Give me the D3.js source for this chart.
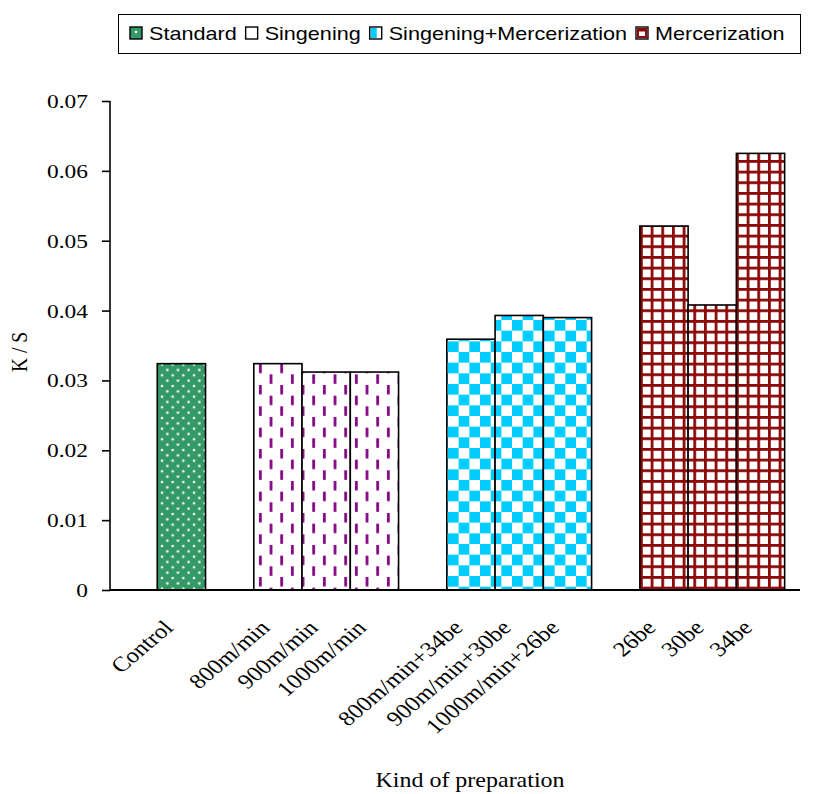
<!DOCTYPE html>
<html>
<head>
<meta charset="utf-8">
<script src="https://cdn.jsdelivr.net/npm/d3@7"></script>
<style>
  body { margin: 0; background: #fff; }
  svg { display: block; }
</style>
</head>
<body>
<svg id="chart" width="821" height="794"></svg>
<script>
// K/S by kind of preparation
const seriesNames = ["Standard", "Singening", "Singening+Mercerization", "Mercerization"];
const categories = ["Control", "800m/min", "900m/min", "1000m/min",
  "800m/min+34be", "900m/min+30be", "1000m/min+26be", "26be", "30be", "34be"];
const categorySeries = [0, 1, 1, 1, 2, 2, 2, 3, 3, 3];
const values = [0.0324, 0.0324, 0.0312, 0.0312, 0.0359, 0.0393, 0.0390, 0.0521, 0.0408, 0.0625];
const yTicks = [0, 0.01, 0.02, 0.03, 0.04, 0.05, 0.06, 0.07];
const yTickLabels = ["0", "0.01", "0.02", "0.03", "0.04", "0.05", "0.06", "0.07"];

const svg = d3.select("#chart");
const serif = "'Liberation Serif', 'Times New Roman', serif";
const sans = "'Liberation Sans', Arial, sans-serif";
const wide = 1.18; // horizontal stretch of the lettering

// one empty slot ahead of each series group
const slots = [];
categories.forEach((c, i) => {
  if (i === 0 || categorySeries[i] !== categorySeries[i - 1]) slots.push("gap" + categorySeries[i]);
  slots.push(c);
});

const plot = { left: 110, right: 800, top: 101, bottom: 590 };
const x = d3.scaleBand().domain(slots).range([109, 109 + slots.length * 48.26]).padding(0);
const y = d3.scaleLinear().domain([0, 0.07]).range([plot.bottom, plot.top]);

// fill patterns, one per series
const defs = svg.append("defs");
const cell = 32 / 3;

const p0 = defs.append("pattern").attr("id", "pat0").attr("patternUnits", "userSpaceOnUse")
  .attr("width", cell).attr("height", cell);
p0.append("rect").attr("width", cell).attr("height", cell).attr("fill", "#339966");
[[2, 2], [2 + cell / 2, 2 + cell / 2]].forEach(([cx, cy]) =>
  p0.append("circle").attr("cx", cx).attr("cy", cy).attr("r", 1.35).attr("fill", "#fff").attr("opacity", 0.95));

const p1 = defs.append("pattern").attr("id", "pat1").attr("patternUnits", "userSpaceOnUse")
  .attr("width", 2 * cell).attr("height", 2 * cell);
p1.append("rect").attr("width", 2 * cell).attr("height", 2 * cell).attr("fill", "#fff");
p1.append("rect").attr("x", 3).attr("y", 1).attr("width", 2.7).attr("height", 9.5).attr("fill", "#800080");
p1.append("rect").attr("x", 3 + cell).attr("y", 1 + cell).attr("width", 2.7).attr("height", 9.5).attr("fill", "#800080");

const p2 = defs.append("pattern").attr("id", "pat2").attr("patternUnits", "userSpaceOnUse")
  .attr("width", 2 * cell).attr("height", 2 * cell);
p2.append("rect").attr("width", 2 * cell).attr("height", 2 * cell).attr("fill", "#fff");
p2.append("rect").attr("x", 0).attr("y", 0).attr("width", cell).attr("height", cell).attr("fill", "#00CCFF");
p2.append("rect").attr("x", cell).attr("y", cell).attr("width", cell).attr("height", cell).attr("fill", "#00CCFF");

const p3 = defs.append("pattern").attr("id", "pat3").attr("patternUnits", "userSpaceOnUse")
  .attr("width", cell).attr("height", cell);
p3.append("rect").attr("width", cell).attr("height", cell).attr("fill", "#fff");
p3.append("rect").attr("x", 0).attr("y", 0).attr("width", 2.8).attr("height", cell).attr("fill", "#8B0A0A");
p3.append("rect").attr("x", 0).attr("y", 0).attr("width", cell).attr("height", 2.8).attr("fill", "#8B0A0A");

// bars
svg.append("g").selectAll("rect").data(categories).join("rect")
  .attr("x", d => x(d))
  .attr("y", (d, i) => y(values[i]))
  .attr("width", x.bandwidth())
  .attr("height", (d, i) => y(0) - y(values[i]))
  .attr("fill", (d, i) => `url(#pat${categorySeries[i]})`)
  .attr("stroke", "#000").attr("stroke-width", 1.6);

// y axis
const yAxis = svg.append("g").attr("transform", `translate(${plot.left},0)`)
  .call(d3.axisLeft(y).tickValues(yTicks).tickSize(8).tickPadding(14)
    .tickFormat((d, i) => yTickLabels[i]));
yAxis.select(".domain").attr("d", `M0,${plot.top}V${plot.bottom}`).attr("stroke", "#000").attr("stroke-width", 1.6);
yAxis.selectAll(".tick line").attr("stroke", "#000").attr("stroke-width", 1.6);
yAxis.selectAll(".tick text")
  .attr("x", 0).attr("dy", null)
  .attr("transform", "translate(-22,6.5) scale(1.2,1)")
  .style("font-family", serif).style("font-size", "19.5px").attr("fill", "#000");

// x axis line
svg.append("line").attr("x1", plot.left).attr("x2", plot.right)
  .attr("y1", plot.bottom).attr("y2", plot.bottom)
  .attr("stroke", "#000").attr("stroke-width", 1.8);

// category labels
svg.append("g").selectAll("text").data(categories).join("text")
  .attr("transform", d => `translate(${x(d) + x.bandwidth() / 2 - 7},629) scale(${wide},1) rotate(-45)`)
  .attr("text-anchor", "end")
  .style("font-family", serif).style("font-size", "21px")
  .text(d => d);

// axis titles
svg.append("text")
  .attr("transform", `translate(27,352) scale(1.2,1) rotate(-90)`)
  .attr("text-anchor", "middle")
  .style("font-family", serif).style("font-size", "19.5px")
  .text("K / S");
svg.append("text")
  .attr("transform", `translate(470,787) scale(1.2,1)`)
  .attr("text-anchor", "middle")
  .style("font-family", serif).style("font-size", "20px")
  .text("Kind of preparation");

// legend
const legend = svg.append("g");
legend.append("rect").attr("x", 118.5).attr("y", 14.5).attr("width", 682).attr("height", 39)
  .attr("fill", "#fff").attr("stroke", "#000").attr("stroke-width", 1);
let lx = 130;
seriesNames.forEach((name, i) => {
  const g = legend.append("g").attr("transform", `translate(${lx},27)`);
  if (i === 0) {
    g.append("rect").attr("width", 12).attr("height", 12).attr("fill", "#339966");
    g.append("circle").attr("cx", 6).attr("cy", 5).attr("r", 1.3).attr("fill", "#fff");
  } else if (i === 1) {
    g.append("rect").attr("width", 12).attr("height", 12).attr("fill", "#fff");
  } else if (i === 2) {
    g.append("rect").attr("width", 12).attr("height", 12).attr("fill", "#fff");
    g.append("rect").attr("x", 1).attr("y", 1).attr("width", 6).attr("height", 10).attr("fill", "#00CCFF");
  } else {
    g.append("rect").attr("width", 12).attr("height", 12).attr("fill", "#fff");
    g.append("rect").attr("x", 2).attr("y", 2).attr("width", 8).attr("height", 8)
      .attr("fill", "none").attr("stroke", "#8B0A0A").attr("stroke-width", 2);
    g.append("rect").attr("x", 2).attr("y", 2).attr("width", 8).attr("height", 2.5).attr("fill", "#8B0A0A");
  }
  g.append("rect").attr("width", 12).attr("height", 12)
    .attr("fill", "none").attr("stroke", "#000").attr("stroke-width", 1.4);
  const t = legend.append("text")
    .attr("transform", `translate(${lx + 19},40) scale(1.2,1)`)
    .style("font-family", sans).style("font-size", "18px")
    .text(name);
  lx += 19 + t.node().getComputedTextLength() * 1.2 + 9;
});
</script>
</body>
</html>
